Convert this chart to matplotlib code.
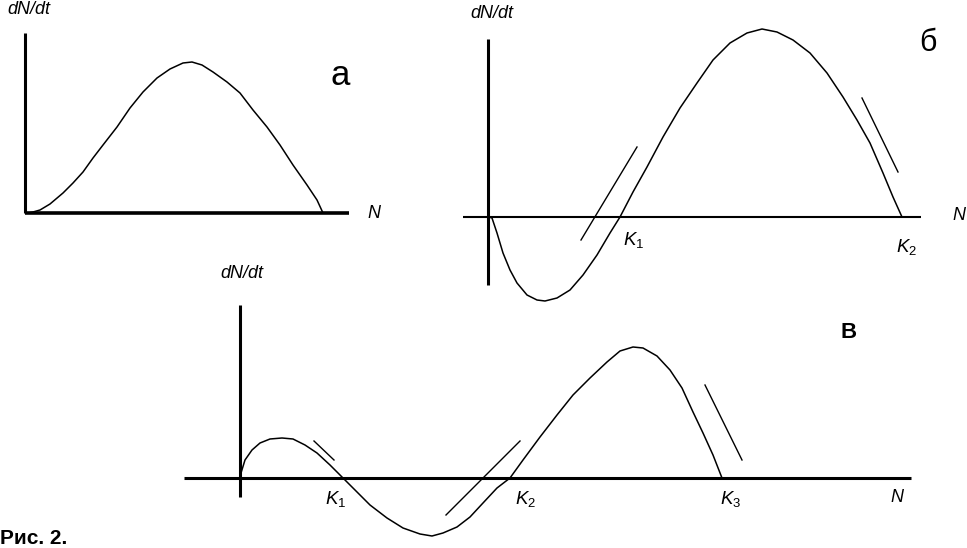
import matplotlib
matplotlib.use("Agg")
import matplotlib.pyplot as plt

plt.rcParams['font.family'] = ['Liberation Sans', 'DejaVu Sans']
plt.rcParams['mathtext.fontset'] = 'custom'
plt.rcParams['mathtext.it'] = 'Liberation Sans:italic'
plt.rcParams['mathtext.rm'] = 'Liberation Sans'

# ---------------- data (arbitrary units) ----------------
# panel а: logistic-like growth rate
a_N = [0.3, 0.8, 1.5, 2.5, 3.8, 4.8, 5.8, 6.8, 7.8, 9.2, 10.5, 11.8, 13.2, 14.5, 15.8,
       16.7, 17.7, 18.8, 20.2, 21.5, 22.8, 24.2, 25.5, 26.8, 28.2, 29.2, 29.8]
a_rate = [0.0, 0.1, 0.3, 0.9, 2.0, 3.0, 4.1, 5.5, 6.8, 8.6, 10.5, 12.1, 13.5, 14.4, 15.0,
          15.1, 14.8, 14.1, 13.1, 12.0, 10.3, 8.6, 6.8, 4.8, 2.8, 1.3, 0.0]

# panel б: two equilibria
b_N = [0.1, 0.4, 0.9, 1.5, 2.2, 2.9, 3.9, 4.9, 5.7, 6.9, 8.2, 9.5, 10.9, 12.2, 13.2,
       14.5, 15.9, 17.5, 19.2, 20.9, 22.5, 24.2, 25.9, 27.4, 28.9, 30.5, 32.2, 33.9,
       35.5, 36.9, 38.2, 39.5, 40.5, 41.4]
b_rate = [0.0, -0.1, -1.6, -3.6, -5.3, -6.6, -7.8, -8.3, -8.4, -8.1, -7.3, -5.8, -3.8,
          -1.6, 0.0, 2.5, 5.0, 8.0, 10.9, 13.4, 15.7, 17.4, 18.4, 18.8, 18.5, 17.7, 16.4,
          14.4, 12.0, 9.7, 7.4, 4.4, 2.0, 0.0]
b_tangents = [([9.3, 14.9], [-2.3, 7.0]), ([37.4, 41.0], [11.9, 4.5])]
b_K_labels = [r'$K_1$', r'$K_2$']

# panel в: three equilibria
c_N = [0.0, 0.1, 0.5, 1.2, 2.0, 3.0, 4.2, 5.3, 6.5, 7.7, 9.0, 10.3, 11.7, 13.0, 14.7,
       16.3, 18.0, 19.2, 20.3, 21.7, 23.0, 24.3, 25.7, 27.0, 28.3, 30.0, 31.7, 33.3,
       35.0, 36.7, 38.0, 39.3, 40.3, 41.7, 43.0, 44.2, 45.3, 46.3, 47.3, 48.2]
c_rate = [0.0, 0.5, 1.8, 2.8, 3.5, 3.9, 4.0, 3.9, 3.3, 2.5, 1.3, 0.0, -1.4, -2.7, -4.0,
          -5.0, -5.6, -5.8, -5.5, -4.9, -3.9, -2.5, -1.0, 0.0, 1.8, 4.1, 6.3, 8.3,
          10.0, 11.6, 12.7, 13.1, 13.0, 12.2, 10.8, 9.0, 6.6, 4.5, 2.3, 0.0]
c_tangents = [([7.4, 9.4], [3.7, 1.8]), ([20.6, 28.0], [-3.7, 3.7]), ([46.5, 50.2], [9.3, 1.8])]
c_K = [10.3, 27.0, 48.2]
c_K_labels = [r'$K_1$', r'$K_2$', r'$K_3$']

# ---------------- figure ----------------
W, H, DPI = 967, 548, 100
fig = plt.figure(figsize=(W / DPI, H / DPI), dpi=DPI)
SCALE = 10.0  # pixels per unit


def panel(ox, oy, xb, yb, lw_x, lw_y):
    ax = fig.add_axes([0, 0, 1, 1])
    ax.patch.set_visible(False)
    ax.set_xlim((0 - ox) / SCALE, (W - ox) / SCALE)
    ax.set_ylim((oy - H) / SCALE, oy / SCALE)
    for s in ('top', 'right'):
        ax.spines[s].set_visible(False)
    ax.spines['left'].set_position(('data', 0))
    ax.spines['bottom'].set_position(('data', 0))
    ax.spines['left'].set_bounds(*yb)
    ax.spines['bottom'].set_bounds(*xb)
    ax.spines['left'].set_linewidth(lw_y)
    ax.spines['bottom'].set_linewidth(lw_x)
    ax.spines['left'].set_capstyle('butt')
    ax.spines['bottom'].set_capstyle('butt')
    ax.set_xticks([])
    ax.set_yticks([])
    return ax


lab_kw = dict(fontsize=13, style='italic', ha='center', va='center')
k_kw = dict(fontsize=13.5, ha='center', va='center')
curve_kw = dict(color='black', lw=1.1, solid_joinstyle='round', solid_capstyle='round')
tan_kw = dict(color='black', lw=1.0)

# panel а
ax = panel(25, 213, (0, 32.4), (0, 18.0), 2.6, 2.2)
ax.plot(a_N, a_rate, **curve_kw)
ax.text(0.4, 20.3, 'dN/dt', **lab_kw)
ax.text(34.9, -0.1, 'N', fontsize=13, style='italic', ha='center', va='center')
ax.text(31.5, 13.7, 'а', fontsize=25, ha='center', va='center')

# panel б
ax = panel(488, 217, (-2.5, 43.3), (-6.8, 17.8), 1.5, 2.2)
ax.plot(b_N, b_rate, **curve_kw)
for tx, ty in b_tangents:
    ax.plot(tx, ty, **tan_kw)
ax.text(14.6, -2.3, b_K_labels[0], **k_kw)
ax.text(41.9, -3.0, b_K_labels[1], **k_kw)
ax.text(0.4, 20.3, 'dN/dt', **lab_kw)
ax.text(47.1, 0.1, 'N', fontsize=13, style='italic', ha='center', va='center')
ax.text(44.0, 17.4, 'б', fontsize=22, ha='center', va='center')

# panel в
ax = panel(240, 478, (-5.6, 67.1), (-1.9, 17.3), 2.2, 2.2)
ax.plot(c_N, c_rate, **curve_kw)
for tx, ty in c_tangents:
    ax.plot(tx, ty, **tan_kw)
for k, lab, dx in zip(c_K, c_K_labels, [-0.7, 1.6, 0.9]):
    ax.text(k + dx, -2.1, lab, **k_kw)
ax.text(0.2, 20.5, 'dN/dt', **lab_kw)
ax.text(65.7, -2.0, 'N', fontsize=13, style='italic', ha='center', va='center')
ax.text(60.9, 14.6, 'В', fontsize=16, fontweight='bold', ha='center', va='center')

fig.text(0 / W, 1 - 538 / H, 'Рис. 2.', fontsize=15, fontweight='bold', ha='left', va='center')

fig.savefig('out.png', dpi=DPI)
